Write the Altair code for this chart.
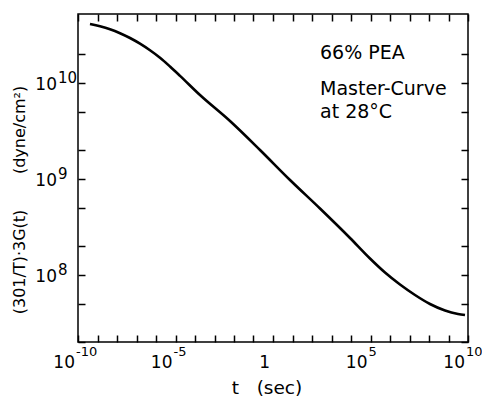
import altair as alt
import pandas as pd

# Master curve: log10 t [s], log10 modulus [dyne/cm^2]
log_t = [-9.385, -8.872, -8.359, -7.846, -7.333, -6.821, -6.308, -5.795, -5.282, -4.769,
         -3.744, -2.205, -0.667, 0.872, 2.410, 3.949, 4.974, 5.744, 6.513, 7.282,
         8.051, 8.821, 9.487, 9.846]
log_G = [10.615, 10.591, 10.560, 10.519, 10.469, 10.410, 10.341, 10.263, 10.172, 10.075,
         9.875, 9.604, 9.302, 8.989, 8.692, 8.385, 8.171, 8.025, 7.900, 7.791,
         7.697, 7.629, 7.593, 7.582]

x_major = [1e-10, 1e-5, 1, 1e5, 1e10]
x_base = ["10", "10", "1", "10", "10"]
x_exp = ["-10", "-5", "", "5", "10"]
x_minor = [10.0 ** k for k in range(-9, 10) if k % 5 != 0]

y_major = [1e8, 1e9, 1e10]
y_base = ["10", "10", "10"]
y_exp = ["8", "9", "10"]
y_minor = [2e7, 5e7, 2e8, 5e8, 2e9, 5e9, 2e10]

NB = "\u00a0"
note1 = "66% PEA"
note2 = "Master-Curve"
note3 = "at 28°C"
x_title = "t" + NB * 3 + "(sec)"
y_title = "(301/T)·3G(t)" + NB * 7 + "(dyne/cm²)"

W, H = 390, 328
FONT = "DejaVu Sans"
INK = "black"

curve = pd.DataFrame({"t": [10.0 ** v for v in log_t], "G": [10.0 ** v for v in log_G]})
xs = alt.Scale(type="log", domain=[1e-10, 1e10], nice=False)
ys = alt.Scale(type="log", domain=[2e7, 5.24e10], nice=False)

xmaj = pd.DataFrame({"t": x_major, "base": x_base, "exp": x_exp})
ymaj = pd.DataFrame({"G": y_major, "base": y_base, "exp": y_exp})


def tick_axis(orient, values):
    # ticks pointing into the plot (negative size given as an expression)
    return alt.Axis(orient=orient, values=values, tickSize={"expr": "-7"},
                    labels=False, domain=False, grid=False, title=None,
                    tickColor=INK, tickWidth=1.5)


layers = [
    alt.Chart(curve).mark_line(color=INK, strokeWidth=2.6, interpolate="monotone").encode(
        x=alt.X("t:Q", scale=xs, axis=tick_axis("bottom", x_major + x_minor)),
        y=alt.Y("G:Q", scale=ys, axis=tick_axis("left", y_major + y_minor)),
    ),
    alt.Chart(curve).mark_line(strokeOpacity=0).encode(
        x=alt.X("t:Q", scale=xs, axis=tick_axis("top", x_major + x_minor)),
        y=alt.Y("G:Q", scale=ys, axis=tick_axis("right", y_major + y_minor)),
    ),
]

layers.append(alt.Chart(xmaj).mark_text(font=FONT, fontSize=17, align="right", baseline="middle",
                                        dx=-3, color=INK).encode(
    x=alt.X("t:Q", scale=xs, axis=None), y=alt.value(H + 21), text=alt.Text("base:N")))
layers.append(alt.Chart(xmaj).mark_text(font=FONT, fontSize=13, align="left", baseline="middle",
                                        dx=-2, color=INK).encode(
    x=alt.X("t:Q", scale=xs, axis=None), y=alt.value(H + 10), text=alt.Text("exp:N")))

layers.append(alt.Chart(ymaj).mark_text(font=FONT, fontSize=17, align="right", baseline="middle",
                                        dy=2, color=INK).encode(
    y=alt.Y("G:Q", scale=ys, axis=None), x=alt.value(-21), text=alt.Text("base:N")))
layers.append(alt.Chart(ymaj).mark_text(font=FONT, fontSize=15, align="left", baseline="middle",
                                        dy=-5, color=INK).encode(
    y=alt.Y("G:Q", scale=ys, axis=None), x=alt.value(-20), text=alt.Text("exp:N")))


def label_layer(txt, px, py, size, align="left", angle=None):
    kw = dict(font=FONT, fontSize=size, align=align, baseline="middle", color=INK, text=txt)
    if angle is not None:
        kw["angle"] = angle
    return alt.Chart(pd.DataFrame({"k": [0]})).mark_text(**kw).encode(
        x=alt.value(px), y=alt.value(py))


layers.append(label_layer(note1, 242, 39, 19))
layers.append(label_layer(note2, 242, 75, 19))
layers.append(label_layer(note3, 242, 98, 19))
layers.append(label_layer(x_title, 189, H + 46, 18.5, align="center"))
layers.append(label_layer(y_title, -58, 186, 16, align="center", angle=270))

chart = alt.layer(*layers).properties(
    width=W, height=H,
    background="white",
    autosize=alt.AutoSizeParams(type="none"),
    padding={"left": 78, "top": 14, "right": 14, "bottom": 55},
).configure_view(stroke=INK, strokeWidth=1.5)

chart.save("out.html", embed_options={"renderer": "svg", "actions": False})
